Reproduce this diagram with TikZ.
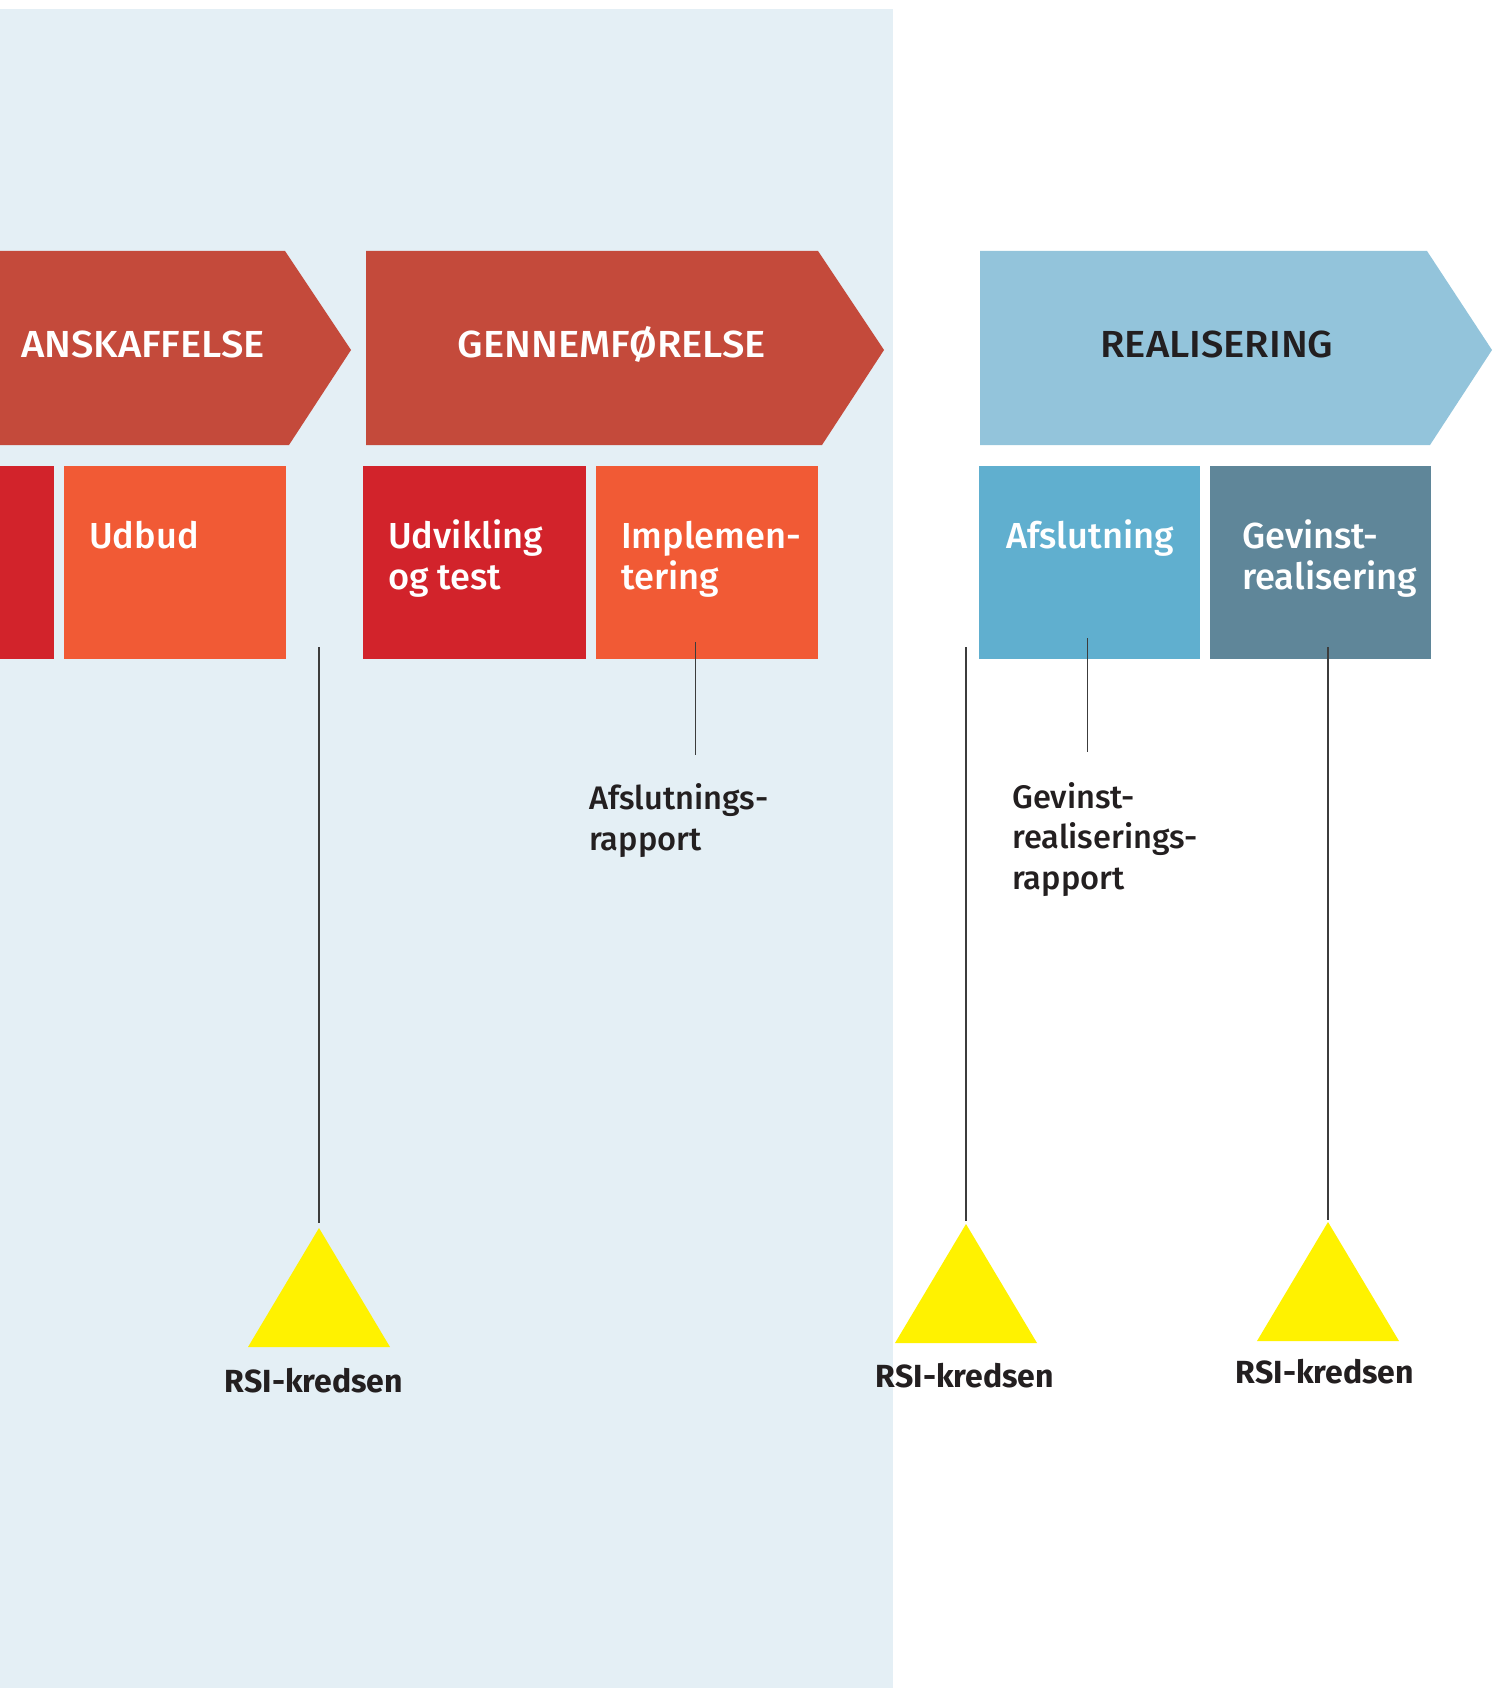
\documentclass[tikz,border=0pt]{standalone}
\usepackage{fontspec}
\setmainfont{Fira Sans}[UprightFont={* Medium}, BoldFont={* Bold}]
\newfontfamily\phasefont{Fira Sans}[UprightFont={* Medium}, FakeStretch=1.06]
\usetikzlibrary{positioning}

\definecolor{bgblue}{HTML}{E4EFF5}
\definecolor{phasered}{HTML}{C44A3B}
\definecolor{phaseblue}{HTML}{93C4DB}
\definecolor{boxred}{HTML}{D2232B}
\definecolor{boxorange}{HTML}{F15A35}
\definecolor{boxblue}{HTML}{60AFCF}
\definecolor{boxslate}{HTML}{5F8699}
\definecolor{rsiyellow}{HTML}{FFF200}
\definecolor{inkdark}{HTML}{231F20}
\definecolor{leadgray}{HTML}{3C3C3C}

\tikzset{
  phasetext/.style={anchor=base, inner sep=0pt, font=\phasefont\fontsize{37.7}{41}\selectfont},
  stagebox/.style={anchor=north west, inner sep=0pt, minimum height=193pt},
  stagetext/.style={anchor=base west, inner sep=0pt, align=left, text=white,
    font=\fontsize{36.2}{41}\selectfont},
  reporttext/.style={anchor=base west, inner sep=0pt, align=left, text=inkdark,
    font=\fontsize{32.6}{40.5}\selectfont},
  rsitext/.style={anchor=base, inner sep=0pt, text=inkdark,
    font=\fontsize{32}{40}\selectfont\bfseries},
  lead/.style={draw=leadgray, line width=1.4pt}
}

\begin{document}
\begin{tikzpicture}[x=1pt,y=-1pt]
    \useasboundingbox (0,0) rectangle (1501,1688);

    % Background panel
    \fill[bgblue] (0,9) rectangle (893,1688);

    % Phase arrows
    \fill[phasered] (0,251) -- (285,251) -- (351,350) -- (289,445) -- (0,445) -- cycle;
    \node[phasetext, text=white] (anskaffelse) at (143,357) {ANSKAFFELSE};
    \fill[phasered] (366,251) -- (818,251) -- (884,350) -- (822,445) -- (366,445) -- cycle;
    \node[phasetext, text=white] (gennemfoerelse) at (612,357) {GENNEMFØRELSE};
    \fill[phaseblue] (980,251) -- (1427,251) -- (1492,350) -- (1430,445) -- (980,445) -- cycle;
    \node[phasetext, text=inkdark] (realisering) at (1217,357) {REALISERING};

    % Stage boxes
    \node[stagebox, fill=boxred, minimum width=54pt] (forud) at (0,466) {};
    \node[stagebox, fill=boxorange, minimum width=222pt] (udbud) at (63.5,466) {};
    \node[stagebox, fill=boxred, minimum width=223pt] (udvikling) at (363,466) {};
    \node[stagebox, fill=boxorange, minimum width=222.5pt] (implementering) at (595.5,466) {};
    \node[stagebox, fill=boxblue, minimum width=221pt] (afslutning) at (979,466) {};
    \node[stagebox, fill=boxslate, minimum width=221pt] (gevinst) at (1210,466) {};

    % (multi-line texts sit on the baseline of their last line)
    \node[stagetext] (udbudtxt) at (89,548) {Udbud};
    \node[stagetext] (udviklingtxt) at (388,589) {Udvikling\\og test};
    \node[stagetext] (impltxt) at (621,589) {Implemen-\\tering};
    \node[stagetext] (afsltxt) at (1006,548) {Afslutning};
    \node[stagetext] (gevinsttxt) at (1242,589) {Gevinst-\\realisering};

    % Reports
    \coordinate (afslrapTop) at (695.5,642);
    \coordinate (afslrapEnd) at (695.5,755);
    \node[reporttext] (afslrap) at (589,850) {Afslutnings-\\rapport};
    \draw[lead] (afslrapTop) -- (afslrapEnd);
    \coordinate (gevrapTop) at (1087.5,638);
    \coordinate (gevrapEnd) at (1087.5,752);
    \node[reporttext] (gevrap) at (1012,889) {Gevinst-\\realiserings-\\rapport};
    \draw[lead] (gevrapTop) -- (gevrapEnd);

    % RSI-kredsen milestones
    \coordinate (rsiTopA) at (319,647);
    \coordinate (triA) at (319,1228);
    \fill[rsiyellow] (triA) -- ++(-71,119) -- ++(142,0) -- cycle;
    \draw[lead, shorten >=5pt] (rsiTopA) -- (triA);
    \node[rsitext] (rsiA) at (314,1392) {RSI-kredsen};

    \coordinate (rsiTopB) at (966,647);
    \coordinate (triB) at (966,1224);
    \fill[rsiyellow] (triB) -- ++(-71,119) -- ++(142,0) -- cycle;
    \draw[lead, shorten >=3pt] (rsiTopB) -- (triB);
    \node[rsitext] (rsiB) at (965,1387) {RSI-kredsen};

    \coordinate (rsiTopC) at (1328,647);
    \coordinate (triC) at (1328,1222);
    \fill[rsiyellow] (triC) -- ++(-71,119) -- ++(142,0) -- cycle;
    \draw[lead, shorten >=2pt] (rsiTopC) -- (triC);
    \node[rsitext] (rsiC) at (1325,1383) {RSI-kredsen};
\end{tikzpicture}
\end{document}
